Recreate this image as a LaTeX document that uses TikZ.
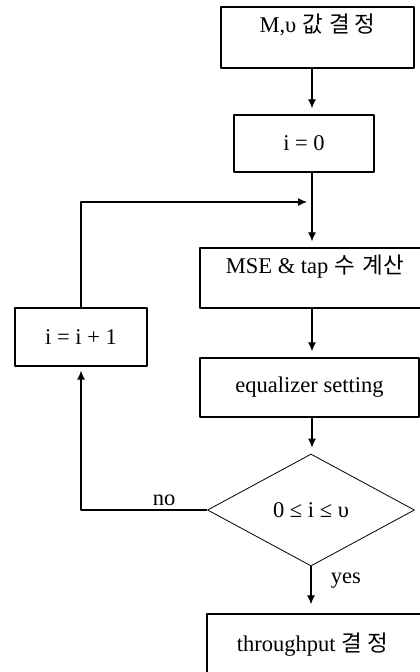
\documentclass[tikz,border=0pt]{standalone}
\usepackage{fontspec}
\setmainfont{Liberation Serif}
\newfontfamily\kr{Noto Sans CJK KR}
\usetikzlibrary{arrows.meta,shapes.geometric}
\tikzset{
  blk/.style={draw, line width=1.3pt, inner sep=0pt, align=center},
  cond/.style={draw, diamond, line width=0.8pt, inner sep=0pt},
  flow/.style={line width=1.2pt, ->, shorten >=6pt},
}
\begin{document}
\begin{tikzpicture}[x=1pt, y=-1pt, font=\fontsize{22.5}{26}\selectfont, >={Latex[length=9pt,width=8pt]}, line join=round]
 \def\xc{312}
 \useasboundingbox (0,0) rectangle (420,672);
 \clip (0,0) rectangle (420,672);
 \coordinate (spine) at (\xc,0);
 % blocks
 \node[blk, minimum width=193, minimum height=61] (mv) at (317.5,37.5) {M,υ\hspace{6pt}{\kr 값\hspace{6pt}결 정}\hspace{10pt}\\[2pt]~};
 \node[blk, minimum width=140, minimum height=57] (init) at (304,143.5) {i = 0};
 \node[blk, minimum width=230, minimum height=60] (mse) at (315,278) {MSE \& tap {\kr 수\hspace{8pt}계산}\hspace{6pt}\\[2pt]~};
 \node[blk, minimum width=219, minimum height=59] (eq) at (309.5,387.5) {equalizer setting};
 \node[cond, minimum width=207, minimum height=112] (test) at (311,510) {0 ≤ i ≤ υ};
 \node[blk, minimum width=223, minimum height=62] (tp) at (318.5,645) {throughput\hspace{6pt}{\kr 결 정}\hspace{12pt}};
 \node[blk, minimum width=132, minimum height=58] (inc) at (81,337) {i = i + 1};
 % main flow
 \draw[flow] (mv.south -| spine) -- (init.north -| spine);
 \draw[flow] (init.south -| spine) -- (mse.north -| spine);
 \draw[flow] (mse.south -| spine) -- (eq.north -| spine);
 \draw[flow] (eq.south -| spine) -- (test.north -| spine);
 \draw[flow, shorten >=9pt] (test.south) -- node[right, pos=0.3, xshift=16pt]{yes} (tp.north -| test.south);
 % loop back
 \coordinate (back) at (\xc,202);
 \draw[flow, shorten >=4pt] (test.west) -| node[above, pos=0.17]{no} (inc.south);
 \draw[flow, shorten >=5pt] (inc.north) |- (back);
\end{tikzpicture}
\end{document}
